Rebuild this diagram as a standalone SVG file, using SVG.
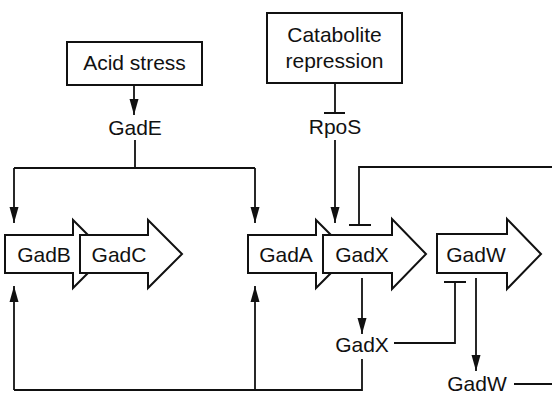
<svg xmlns="http://www.w3.org/2000/svg" width="552" height="396" viewBox="0 0 552 396">
<defs>
<style>
.t{font-family:"Liberation Sans",Arial,sans-serif;font-size:21px;fill:#111;text-anchor:middle}
.box{fill:#fff;stroke:#111;stroke-width:2}
.gene{fill:#fff;stroke:#111;stroke-width:2;stroke-linejoin:miter}
.ln{fill:none;stroke:#111;stroke-width:1.8}
</style>
<marker id="ah" markerUnits="userSpaceOnUse" markerWidth="16" markerHeight="10" refX="16" refY="5" orient="auto">
<path d="M0,0.5 L16,5 L0,9.5 z" fill="#111"/>
</marker>
</defs>
<rect width="552" height="396" fill="#fff"/>

<g id="acid-stress">
<rect class="box" x="67" y="42" width="135" height="43"/>
<text class="t" x="134.5" y="70">Acid stress</text>
</g>
<g id="catabolite-repression">
<rect class="box" x="267" y="13" width="135" height="70"/>
<text class="t" x="334.5" y="42">Catabolite</text>
<text class="t" x="334.5" y="68">repression</text>
</g>
<g id="GadE"><text class="t" x="135" y="135">GadE</text></g>
<g id="RpoS"><text class="t" x="335" y="134">RpoS</text></g>

<g id="gene-GadB">
<path class="gene" d="M5,235 H73 V220 L107,254 L73,288 V273 H5 z"/>
<text class="t" x="44" y="262">GadB</text>
</g>
<g id="gene-GadC">
<path class="gene" d="M80,235 H148 V220 L182,254 L148,288 V273 H80 z"/>
<text class="t" x="119" y="262">GadC</text>
</g>
<g id="gene-GadA">
<path class="gene" d="M248,235 H316 V220 L350,254 L316,288 V273 H248 z"/>
<text class="t" x="286" y="262">GadA</text>
</g>
<g id="gene-GadX">
<path class="gene" d="M323,235 H392 V219 L426,254 L392,289 V273 H323 z"/>
<text class="t" x="362" y="262">GadX</text>
</g>
<g id="gene-GadW">
<path class="gene" d="M437,234 H507 V219 L541,254 L507,289 V273 H437 z"/>
<text class="t" x="476" y="262">GadW</text>
</g>
<g id="GadX-protein"><text class="t" x="362" y="352">GadX</text></g>
<g id="GadW-protein"><text class="t" x="477" y="391">GadW</text></g>

<g id="connectors">
<path class="ln" d="M134,85 V115" marker-end="url(#ah)"/>
<path class="ln" d="M335,83 V113 M324,113 H345"/>
<path class="ln" d="M135,140 V168 M14,168 H255"/>
<path class="ln" d="M14,168 V223" marker-end="url(#ah)"/>
<path class="ln" d="M255,168 V223" marker-end="url(#ah)"/>
<path class="ln" d="M335,140 V223" marker-end="url(#ah)"/>
<path class="ln" d="M552,167 H359 V225 M349,225 H371"/>
<path class="ln" d="M362,278 V334" marker-end="url(#ah)"/>
<path class="ln" d="M394,343 H455 V282 M444,282 H466"/>
<path class="ln" d="M476,278 V371" marker-end="url(#ah)"/>
<path class="ln" d="M514,384 H552"/>
<path class="ln" d="M362,359 V390 H14"/>
<path class="ln" d="M14,390 V286" marker-end="url(#ah)"/>
<path class="ln" d="M255,390 V286" marker-end="url(#ah)"/>
</g>
</svg>
